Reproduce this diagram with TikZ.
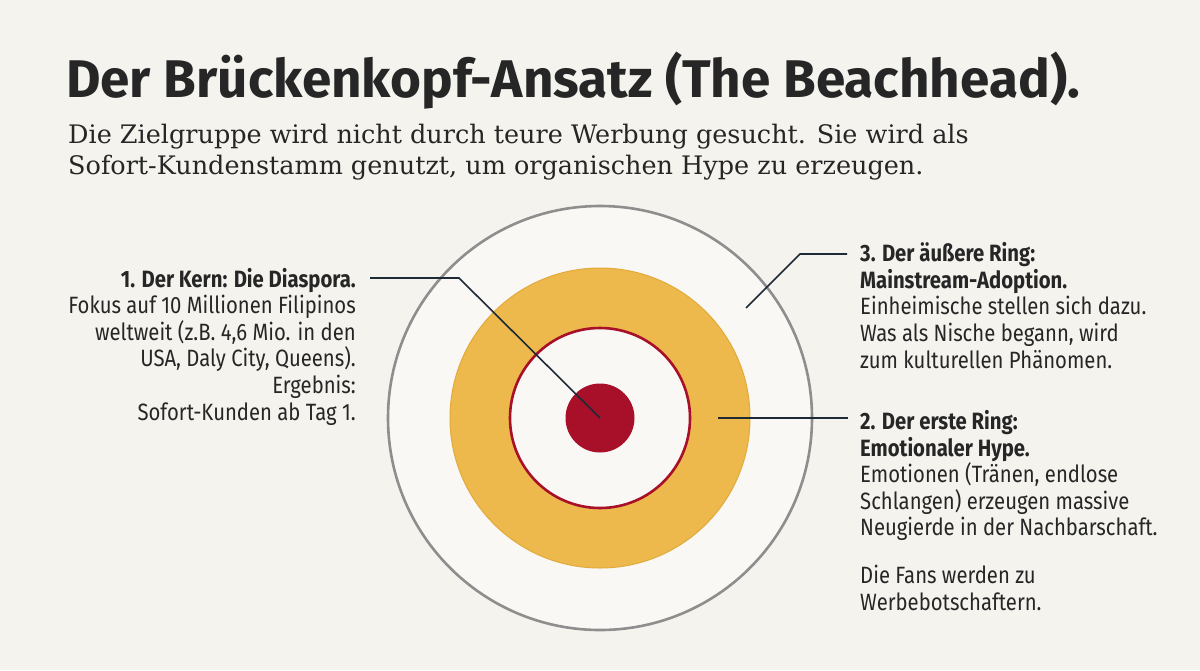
\documentclass[tikz,border=0pt]{standalone}
\usepackage{fontspec}
\setmainfont{DejaVu Serif}
\newfontfamily\titlefont{Fira Sans}
\newfontfamily\ringfont[FakeStretch=0.86]{Fira Sans}

\definecolor{paper}{HTML}{F4F3EE}
\definecolor{paperlight}{HTML}{F9F8F5}
\definecolor{inkdark}{HTML}{262626}
\definecolor{linedark}{HTML}{1E2A36}
\definecolor{ringgray}{HTML}{8E8E8E}
\definecolor{hypegold}{HTML}{EDB84C}
\definecolor{hypeedge}{HTML}{E2AA3C}
\definecolor{corered}{HTML}{A8102A}

\tikzset{
  ring/.style={circle,inner sep=0pt},
  leader/.style={draw=linedark,line width=1.6pt},
  ringtext/.style={font=\ringfont\fontsize{23.6}{26.6}\selectfont,inner sep=0pt,text=inkdark}
}

\begin{document}
\begin{tikzpicture}[x=1pt,y=-1pt]

\fill[paper] (0,0) rectangle (1200,670);
\useasboundingbox (0,0) rectangle (1200,670);

% heading
\node[anchor=base west,inner sep=0pt,text=inkdark,font=\titlefont\bfseries\fontsize{53}{60}\selectfont] (title) at (66,97) {Der Brückenkopf-Ansatz (The Beachhead).};
% base of a multi-line node = its last line
\node[anchor=base west,inner sep=0pt,text=inkdark,align=left,font=\fontsize{25.5}{31}\selectfont] (subtitle) at (68,174) {Die Zielgruppe wird nicht durch teure Werbung gesucht. Sie wird als\\Sofort-Kundenstamm genutzt, um organischen Hype zu erzeugen.};

% the target
\node[ring,minimum size=424pt,fill=paperlight,draw=ringgray,line width=2.6pt] (outer) at (600,418) {};
\node[ring,minimum size=300pt,fill=hypegold,draw=hypeedge,line width=1pt] (hype) at (600,418) {};
\node[ring,minimum size=180pt,fill=paperlight,draw=corered,line width=2.6pt] (first) at (600,418) {};
\node[ring,minimum size=69pt,fill=corered] (core) at (600,418) {};

% texts
\node[ringtext,anchor=base east,align=right] (kern) at (356,420) {\textbf{1. Der Kern: Die Diaspora.}\\Fokus auf 10 Millionen Filipinos\\weltweit (z.B. 4,6 Mio. in den\\USA, Daly City, Queens).\\Ergebnis:\\Sofort-Kunden ab Tag 1.};
\node[ringtext,anchor=base west,align=left] (mainstream) at (860,368) {\textbf{3. Der äußere Ring:}\\\textbf{Mainstream-Adoption.}\\Einheimische stellen sich dazu.\\Was als Nische begann, wird\\zum kulturellen Phänomen.};
\node[ringtext,anchor=base west,align=left] (emotion) at (860,610) {\textbf{2. Der erste Ring:}\\\textbf{Emotionaler Hype.}\\Emotionen (Tränen, endlose\\Schlangen) erzeugen massive\\Neugierde in der Nachbarschaft.\\[21pt]Die Fans werden zu\\Werbebotschaftern.};

% leaders
\coordinate (kernstart) at (370,278);
\coordinate (kernbend) at (459,278);
\coordinate (mainstart) at (847,254);
\coordinate (mainbend) at (800,254);
\coordinate (maintip) at (746,308);
\coordinate (hypetip) at (718,418);
\coordinate (hypestart) at (848,418);

\draw[leader] (kernstart) -- (kernbend) -- (core.center);
\draw[leader] (mainstart) -- (mainbend) -- (maintip);
\draw[leader] (hypetip) -- (hypestart);

\end{tikzpicture}
\end{document}
